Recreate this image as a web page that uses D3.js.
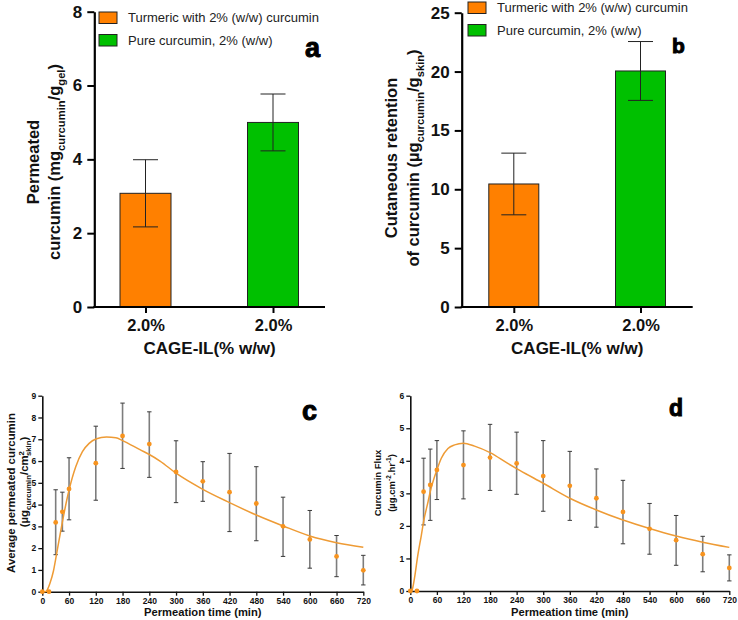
<!DOCTYPE html>
<html><head><meta charset="utf-8">
<script src="https://cdn.jsdelivr.net/npm/d3@7"></script>
<style>
html,body{margin:0;padding:0;background:#fff;}
svg{display:block;font-family:"Liberation Sans",Arial,sans-serif;}
</style></head>
<body>
<svg id="chart" width="738" height="620"></svg>
<script>
// ---------- DATA ----------
const barCategories = ["2.0%", "2.0%"];
const seriesNames = ["Turmeric with 2% (w/w) curcumin", "Pure curcumin, 2% (w/w)"];
const seriesColors = ["#FF8000", "#00C000"];
const permeatedMean = [3.08, 5.0];
const permeatedErr = [0.91, 0.77];
const retentionMean = [10.45, 20.05];
const retentionErr = [2.62, 2.5];
const yTicksA = [0, 2, 4, 6, 8];
const yTicksB = [0, 5, 10, 15, 20, 25];

const timePoints = [0, 15, 30, 45, 60, 120, 180, 240, 300, 360, 420, 480, 540, 600, 660, 720];
const avgPermMean = [0, 0, 3.18, 3.67, 4.72, 5.9, 7.15, 6.78, 5.5, 5.07, 4.57, 4.05, 3.0, 2.4, 1.62, 0.98];
const avgPermLow  = [null, null, 1.7, 2.78, 3.3, 4.2, 5.66, 5.25, 4.09, 4.15, 2.76, 2.34, 1.62, 1.08, 0.69, 0.31];
const avgPermHigh = [null, null, 4.68, 4.57, 6.15, 7.6, 8.66, 8.26, 6.93, 5.97, 6.35, 5.74, 4.34, 3.73, 2.58, 1.67];
const fluxMean = [0, 0, 3.05, 3.26, 3.72, 3.87, 4.1, 3.92, 3.53, 3.23, 2.85, 2.43, 1.91, 1.56, 1.13, 0.71];
const fluxLow  = [null, null, 2.03, 2.17, 2.81, 2.83, 3.09, 2.97, 2.45, 2.17, 1.96, 1.45, 1.13, 0.79, 0.59, 0.31];
const fluxHigh = [null, null, 4.08, 4.36, 4.62, 4.92, 5.12, 4.88, 4.62, 4.29, 3.75, 3.4, 2.69, 2.32, 1.68, 1.11];

const fitTimeC  = [0, 8, 10, 17, 25, 30, 37, 45, 60, 75, 90, 105, 120, 144, 165, 180, 220, 240, 264, 300, 360, 420, 480, 540, 600, 660, 720];
const fitValueC = [0, 0.01, 0.05, 0.38, 0.95, 1.5, 2.3, 3.2, 4.67, 5.74, 6.43, 6.81, 7.01, 7.1, 7.07, 6.94, 6.51, 6.3, 6.0, 5.44, 4.7, 4.09, 3.52, 3.02, 2.56, 2.25, 2.04];
const fitTimeD  = [0, 3, 6, 10, 17, 25, 30, 40, 45, 60, 70, 85, 100, 120, 145, 180, 220, 248, 300, 360, 420, 480, 540, 600, 660, 720];
const fitValueD = [0, 0, 0.13, 0.44, 1.1, 1.72, 2.13, 2.74, 3.05, 3.72, 4.08, 4.38, 4.49, 4.54, 4.45, 4.25, 3.92, 3.7, 3.31, 2.85, 2.49, 2.18, 1.92, 1.69, 1.5, 1.34];

const xTicksTime = [0, 60, 120, 180, 240, 300, 360, 420, 480, 540, 600, 660, 720];
const yTicksC = [0, 1, 2, 3, 4, 5, 6, 7, 8, 9];
const yTicksD = [0, 1, 2, 3, 4, 5, 6];

// ---------- DRAW ----------
const svg = d3.select("#chart");
svg.append("rect").attr("width", 738).attr("height", 620).attr("fill", "#fff");
const FONT = '"Liberation Sans",Arial,sans-serif';

function rich(g, parts, size) {
  const t = g.append("text").attr("text-anchor", "middle").attr("font-weight", "bold").attr("font-size", size);
  let shift = 0;
  parts.forEach(([txt, type, dx]) => {
    const s = t.append("tspan").text(txt);
    let target = 0, fs = size;
    if (type === "sub") { target = size * 0.3; fs = size * 0.68; }
    if (type === "sup") { target = -size * 0.38; fs = size * 0.68; }
    s.attr("dy", target - shift).attr("font-size", fs);
    if (dx) s.attr("dx", dx);
    shift = target;
  });
  return t;
}

function barPanel(opt) {
  const g = svg.append("g");
  const y = d3.scaleLinear().domain(opt.yDomain).range([307, opt.yTop]);
  const x = d3.scalePoint().domain([0, 1]).range(opt.centers);
  opt.mean.forEach((v, i) => {
    g.append("rect").attr("x", x(i) - opt.barW / 2).attr("y", y(v))
      .attr("width", opt.barW).attr("height", y(0) - y(v))
      .attr("fill", seriesColors[i]).attr("stroke", "#222").attr("stroke-width", 1);
    const lo = y(v - opt.err[i]), hi = y(v + opt.err[i]);
    g.append("line").attr("x1", x(i)).attr("x2", x(i)).attr("y1", lo).attr("y2", hi).attr("stroke", "#222").attr("stroke-width", 1);
    [lo, hi].forEach(yy => g.append("line").attr("x1", x(i) - 12.5).attr("x2", x(i) + 12.5).attr("y1", yy).attr("y2", yy).attr("stroke", "#222").attr("stroke-width", 1));
  });
  const ya = g.append("g").attr("transform", `translate(${opt.axisX},0)`)
    .call(d3.axisLeft(y).tickValues(opt.yTicks).tickFormat(d3.format("d")).tickSize(7).tickPadding(5).tickSizeOuter(0));
  ya.select(".domain").attr("stroke", "#000").attr("stroke-width", 2.2);
  ya.selectAll(".tick line").attr("stroke", "#000").attr("stroke-width", 2);
  ya.selectAll(".tick text").attr("font-size", 17).attr("font-weight", "bold").attr("fill", "#111").attr("font-family", FONT);
  const xa = g.append("g").attr("transform", `translate(0,307)`)
    .call(d3.axisBottom(x).tickSize(6).tickPadding(6).tickFormat(i => barCategories[i]));
  xa.select(".domain").remove();
  xa.selectAll(".tick line").attr("stroke", "#000").attr("stroke-width", 2);
  xa.selectAll(".tick text").attr("font-size", 16.5).attr("font-weight", "bold").attr("fill", "#111").attr("font-family", FONT);
  g.append("line").attr("x1", opt.axisX - 1).attr("x2", opt.axisEnd).attr("y1", 307).attr("y2", 307).attr("stroke", "#000").attr("stroke-width", 2.2);
  g.append("text").attr("x", (opt.axisX + opt.axisEnd) / 2).attr("y", 354).attr("text-anchor", "middle")
    .attr("font-size", 17).attr("font-weight", "bold").attr("fill", "#111").text("CAGE-IL(% w/w)");
  seriesNames.forEach((n, i) => {
    const ly = opt.legY + i * 22.5;
    g.append("rect").attr("x", opt.legX).attr("y", ly - 5.5).attr("width", 18).attr("height", 11.5)
      .attr("fill", seriesColors[i]).attr("stroke", "#222").attr("stroke-width", 1);
    g.append("text").attr("x", opt.legX + 29).attr("y", ly + 4.5).attr("font-size", 13).attr("fill", "#222").text(n);
  });
  g.append("text").attr("x", opt.letterX).attr("y", opt.letterY).attr("font-size", opt.letterSize)
    .attr("font-weight", "bold").attr("stroke", "#000").attr("stroke-width", 1).attr("fill", "#000").text(opt.letter);
  const lab = g.append("g").attr("fill", "#111");
  opt.ylabel.forEach(ln => {
    const t = rich(lab, ln.parts, 16.5);
    t.attr("transform", `translate(${ln.x},${ln.y}) rotate(-90)`);
  });
}

barPanel({
  yDomain: [0, 8], yTop: 11.7, centers: [145.5, 273], barW: 51, mean: permeatedMean, err: permeatedErr,
  axisX: 94.3, axisEnd: 325, yTicks: yTicksA, legX: 99, legY: 17.5, letter: "a", letterX: 305, letterY: 57, letterSize: 27,
  ylabel: [
    { x: 39, y: 162, parts: [["Permeated", "n"]] },
    { x: 60, y: 162, parts: [["curcumin (mg", "n"], ["curcumin", "sub"], ["/g", "n"], ["gel", "sub"], [")", "n"]] }
  ]
});
barPanel({
  yDomain: [0, 25], yTop: 12.7, centers: [513.8, 640.5], barW: 50, mean: retentionMean, err: retentionErr,
  axisX: 461.7, axisEnd: 692.7, yTicks: yTicksB, legX: 468, legY: 7.5, letter: "b", letterX: 672, letterY: 53, letterSize: 21,
  ylabel: [
    { x: 397, y: 158, parts: [["Cutaneous retention", "n"]] },
    { x: 419, y: 158, parts: [["of curcumin (µg", "n"], ["curcumin", "sub"], ["/g", "n"], ["skin", "sub"], [")", "n"]] }
  ]
});

function linePanel(opt) {
  const g = svg.append("g");
  const x = d3.scaleLinear().domain([0, 720]).range([opt.x0, opt.x1]);
  const y = d3.scaleLinear().domain(opt.yDomain).range([opt.y0, opt.y1]);
  const xa = g.append("g").attr("transform", `translate(0,${opt.y0})`)
    .call(d3.axisBottom(x).tickValues(xTicksTime).tickFormat(d3.format("d")).tickSize(4).tickPadding(2).tickSizeOuter(0));
  const ya = g.append("g").attr("transform", `translate(${opt.x0},0)`)
    .call(d3.axisLeft(y).tickValues(opt.yTicks).tickFormat(d3.format("d")).tickSize(4).tickPadding(2).tickSizeOuter(0));
  [xa, ya].forEach(a => {
    a.select(".domain").attr("stroke", "#111").attr("stroke-width", 1.6);
    a.selectAll(".tick line").attr("stroke", "#111").attr("stroke-width", 1.3);
    a.selectAll(".tick text").attr("font-size", 8.5).attr("font-weight", "bold").attr("fill", "#111").attr("font-family", FONT);
  });
  timePoints.forEach((t, i) => {
    if (opt.low[i] == null) return;
    const cx = x(t), lo = y(opt.low[i]), hi = y(opt.high[i]);
    g.append("line").attr("x1", cx).attr("x2", cx).attr("y1", lo).attr("y2", hi).attr("stroke", "#7d7d7d").attr("stroke-width", 1.6);
    [lo, hi].forEach(yy => g.append("line").attr("x1", cx - 2.2).attr("x2", cx + 2.2).attr("y1", yy).attr("y2", yy).attr("stroke", "#3a3a3a").attr("stroke-width", 1));
  });
  const fit = opt.fitT.map((t, i) => [t, opt.fitV[i]]);
  g.append("path").datum(fit).attr("fill", "none").attr("stroke", "#EE9B35").attr("stroke-width", 1.5)
    .attr("d", d3.line().x(d => x(d[0])).y(d => y(d[1])).curve(d3.curveMonotoneX));
  timePoints.forEach((t, i) => {
    g.append("circle").attr("cx", x(t)).attr("cy", y(opt.mean[i])).attr("r", 2.4).attr("fill", "#F7931E");
  });
  g.append("text").attr("x", (opt.x0 + opt.x1) / 2).attr("y", 616).attr("text-anchor", "middle")
    .attr("font-size", 11.2).attr("font-weight", "bold").attr("fill", "#111").text("Permeation time (min)");
  g.append("text").attr("x", opt.letterX).attr("y", opt.letterY).attr("font-size", opt.letterSize)
    .attr("font-weight", "bold").attr("stroke", "#000").attr("stroke-width", 1).attr("fill", "#000").text(opt.letter);
  const lab = g.append("g").attr("fill", "#111");
  opt.ylabel.forEach(ln => {
    const t = rich(lab, ln.parts, ln.size);
    t.attr("transform", `translate(${ln.x},${ln.y}) rotate(-90)`);
  });
}

linePanel({
  x0: 42.3, x1: 363.3, y0: 591.7, y1: 395.7, yDomain: [0, 9], yTicks: yTicksC,
  mean: avgPermMean, low: avgPermLow, high: avgPermHigh, fitT: fitTimeC, fitV: fitValueC,
  letter: "c", letterX: 302, letterY: 420, letterSize: 27,
  ylabel: [
    { x: 15, y: 493, size: 11.4, parts: [["Average permeated curcumin", "n"]] },
    { x: 28, y: 482, size: 11.4, parts: [["(µg", "n"], ["curcumin", "sub"], ["/cm", "n"], ["2", "sup"], ["skin", "sub", -5], [")", "n"]] }
  ]
});
linePanel({
  x0: 410.3, x1: 729.3, y0: 591, y1: 395.7, yDomain: [0, 6], yTicks: yTicksD,
  mean: fluxMean, low: fluxLow, high: fluxHigh, fitT: fitTimeD, fitV: fitValueD,
  letter: "d", letterX: 669, letterY: 416, letterSize: 23,
  ylabel: [
    { x: 381, y: 483, size: 9.5, parts: [["Curcumin Flux", "n"]] },
    { x: 395, y: 483, size: 9.5, parts: [["(µg.cm", "n"], ["-2", "sup"], [".hr", "n"], ["-1", "sup"], [")", "n"]] }
  ]
});
</script>
</body></html>
